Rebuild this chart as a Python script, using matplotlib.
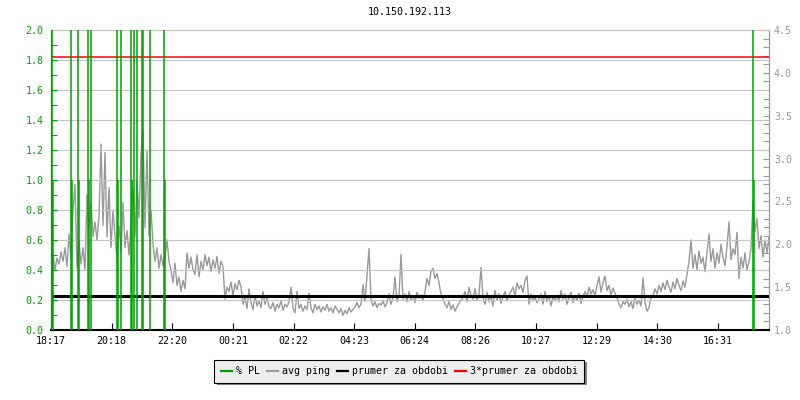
import numpy as np
import matplotlib
matplotlib.use("Agg")
import matplotlib.pyplot as plt
from matplotlib.lines import Line2D
from matplotlib.ticker import MultipleLocator, FormatStrFormatter

# ---------------- data ----------------
title = "10.150.192.113"
tick_labels = ["18:17", "20:18", "22:20", "00:21", "02:22", "04:23",
               "06:24", "08:26", "10:27", "12:29", "14:30", "16:31"]
label_span_min = 1334      # minutes from first to last label (18:17 -> 16:31)
window_min = 1436          # shown time window in minutes
sample_step_min = 4        # spacing of the ping samples (minutes)

# average ping (right axis), one sample every 4 minutes from 18:17
ping = [
    1.74, 1.875, 1.70, 1.84, 1.77, 1.91, 1.80,
    1.96, 1.74, 2.12, 1.84,
    2.40, 2.70, 1.72,
    2.02, 1.77, 1.96, 1.70,
    2.58, 2.19, 2.49, 2.09,
    2.26, 2.05, 2.33,
    3.17, 2.22, 3.07, 2.09,
    2.66, 1.96, 2.40,
    2.09, 1.84, 2.22, 1.91, 2.49, 1.96, 2.16, 1.875,
    2.22, 2.66, 2.09, 2.75, 2.31, 3.05, 3.33, 2.19,
    3.10, 2.10, 2.40, 2.00,
    1.80, 1.96, 1.72, 1.88, 1.75,
    1.85, 2.05, 1.80,
    1.70, 1.55, 1.78, 1.52, 1.62, 1.45, 1.58, 1.48,
    1.90, 1.72, 1.85, 1.70,
    1.65, 1.88, 1.62, 1.80, 1.70, 1.88, 1.75, 1.85, 1.68, 1.82, 1.72, 1.86, 1.66, 1.80, 1.74,
    1.36, 1.50,
    1.45, 1.56, 1.40, 1.54, 1.47, 1.58, 1.50,
    1.30, 1.38, 1.25, 1.48, 1.32, 1.24, 1.40, 1.28,
    1.34, 1.26, 1.45, 1.30, 1.38, 1.27,
    1.25, 1.32, 1.22, 1.30, 1.26, 1.34, 1.23, 1.30, 1.27, 1.33,
    1.50,
    1.26, 1.20, 1.45, 1.25, 1.30, 1.22, 1.28, 1.24, 1.43, 1.26, 1.20, 1.30,
    1.24, 1.28, 1.21, 1.27, 1.23, 1.30, 1.22, 1.26, 1.20, 1.28, 1.24,
    1.20, 1.25, 1.17, 1.23, 1.19, 1.26, 1.21, 1.24,
    1.27, 1.32, 1.26, 1.30, 1.53,
    1.33, 1.64, 1.95, 1.36,
    1.28, 1.33, 1.26, 1.31, 1.29, 1.34, 1.27, 1.32,
    1.42, 1.30, 1.38, 1.62, 1.33, 1.40, 1.88,
    1.36, 1.42, 1.33, 1.45, 1.35, 1.40, 1.32, 1.44, 1.37, 1.41, 1.34,
    1.45, 1.60, 1.52, 1.68, 1.72, 1.60, 1.66, 1.55, 1.42,
    1.36, 1.30, 1.26, 1.33, 1.24, 1.29, 1.22, 1.27, 1.31, 1.35,
    1.38, 1.45, 1.33, 1.50, 1.40, 1.36, 1.48, 1.35, 1.42,
    1.73,
    1.38, 1.30, 1.44, 1.33, 1.40, 1.28, 1.46, 1.35, 1.42, 1.31, 1.39, 1.45, 1.34, 1.41,
    1.45, 1.50, 1.40, 1.55, 1.48, 1.52, 1.44, 1.58, 1.63,
    1.30, 1.42, 1.34, 1.38, 1.32,
    1.36, 1.42, 1.30, 1.45, 1.33, 1.40, 1.28, 1.38, 1.34,
    1.40, 1.33, 1.46, 1.36, 1.42, 1.30, 1.38, 1.44, 1.32, 1.40, 1.35, 1.43, 1.31, 1.39,
    1.45, 1.38, 1.50, 1.42, 1.47, 1.40, 1.52, 1.62, 1.44, 1.55, 1.63, 1.46, 1.52, 1.41, 1.49, 1.43, 1.38,
    1.30, 1.26, 1.33,
    1.30, 1.36, 1.27, 1.33, 1.25, 1.38, 1.30, 1.35, 1.28, 1.61, 1.32, 1.22, 1.26, 1.38,
    1.40, 1.48, 1.42, 1.52, 1.45, 1.55, 1.47, 1.58, 1.50, 1.44, 1.56, 1.48, 1.60, 1.52, 1.46, 1.57, 1.50,
    1.65, 1.80, 2.05, 1.72, 1.88, 1.70, 1.92, 1.78, 1.85, 1.68, 1.90, 2.12,
    1.80, 1.95, 1.72, 1.90, 1.78, 2.00, 1.85, 1.75, 1.98, 2.26, 1.82, 1.95, 1.88, 2.14, 1.60, 1.85, 1.72, 1.90, 1.70, 1.80,
    1.95, 2.50,
    2.15, 2.30, 1.95, 2.10, 1.85, 2.05, 1.90, 2.08,
]
avg_ping = 1.395           # "prumer za obdobi"

# packet loss events (minutes after 18:17, % PL on left axis)
pl_times = [1, 4, 39, 42, 54, 56, 74, 76, 79, 131, 133, 140, 160, 162, 166,
            172, 182, 184, 198, 225, 227, 1403, 1405]
pl_values = [10, 1.0, 10, 1.0, 10, 1.0, 10, 1.0, 10, 10, 1.0, 10, 10, 1.0, 10,
             10, 10, 10, 10, 10, 1.0, 10, 1.0]

legend_labels = ["% PL", "avg ping", "prumer za obdobi", "3*prumer za obdobi"]

# ---------------- style ----------------
GREEN = "#00a000"
GRAY = "#999999"
GRID = "#c4c4c4"

plt.rcParams["font.family"] = ["DejaVu Sans Mono", "DejaVu Sans"]
plt.rcParams["font.size"] = 7.2

fig = plt.figure(figsize=(8, 4), dpi=100)
axL = fig.add_axes([51 / 800, 70 / 400, 718 / 800, 300 / 400])
axR = axL.twinx()
axL.set_zorder(axR.get_zorder() + 1)
axL.patch.set_visible(False)

t_ping = np.arange(len(ping)) * sample_step_min
axR.plot(t_ping, ping, color=GRAY, lw=1.0, zorder=2)
axR.axhline(avg_ping, color="black", lw=2.2, zorder=3)
axR.axhline(3 * avg_ping, color="red", lw=1.1, zorder=3)

axL.vlines(pl_times, 0, pl_values, color=GREEN, lw=1.1, zorder=3)

# axes limits / ticks
axL.set_xlim(0, window_min)
axL.set_ylim(0, 2.0)
axR.set_ylim(1.0, 4.5)

xt = np.arange(len(tick_labels)) * label_span_min / (len(tick_labels) - 1)
axL.set_xticks(xt)
axL.set_xticklabels(tick_labels)

axL.yaxis.set_major_locator(MultipleLocator(0.2))
axL.yaxis.set_minor_locator(MultipleLocator(0.1))
axL.yaxis.set_major_formatter(FormatStrFormatter("%.1f"))
axR.yaxis.set_major_locator(MultipleLocator(0.5))
axR.yaxis.set_minor_locator(MultipleLocator(0.1))
axR.yaxis.set_major_formatter(FormatStrFormatter("%.1f"))

axL.tick_params(axis="y", which="both", direction="in", length=4, width=0.8,
                color=GREEN, labelcolor=GREEN, pad=5.5)
axL.tick_params(axis="x", which="both", direction="in", length=5, width=0.8,
                color="black", labelcolor="black", pad=4)
axR.tick_params(axis="y", which="both", direction="in", length=4, width=0.8,
                color=GRAY, labelcolor=GRAY, pad=3.5)

axL.yaxis.grid(True, which="major", color=GRID, lw=0.8)
axL.set_axisbelow(True)

axL.spines["top"].set_color(GRID)
axL.spines["top"].set_linewidth(0.8)
axL.spines["right"].set_visible(False)
axL.spines["left"].set_color(GREEN)
axL.spines["left"].set_linewidth(0.9)
axL.spines["bottom"].set_color("black")
axL.spines["bottom"].set_linewidth(1.5)
for s in ("left", "top", "bottom"):
    axR.spines[s].set_visible(False)
axR.spines["right"].set_color(GRAY)
axR.spines["right"].set_linewidth(0.9)

fig.text(410 / 800, 1 - 12 / 400, title, ha="center", va="center", color="black")

handles = [Line2D([], [], color=GREEN, lw=1.6),
           Line2D([], [], color=GRAY, lw=1.6),
           Line2D([], [], color="black", lw=1.6),
           Line2D([], [], color="red", lw=1.6)]
leg = fig.legend(handles, legend_labels, loc="center",
                 bbox_to_anchor=(399 / 800, 29 / 400), ncol=4,
                 frameon=True, fancybox=False,
                 shadow={"facecolor": "#808080", "alpha": 1, "edgecolor": "none"},
                 facecolor="#eeeeee", edgecolor="black", framealpha=1,
                 handlelength=1.1, handletextpad=0.4, columnspacing=0.7,
                 borderpad=0.65)
leg.get_frame().set_linewidth(0.8)

fig.savefig("out.png", dpi=100)
